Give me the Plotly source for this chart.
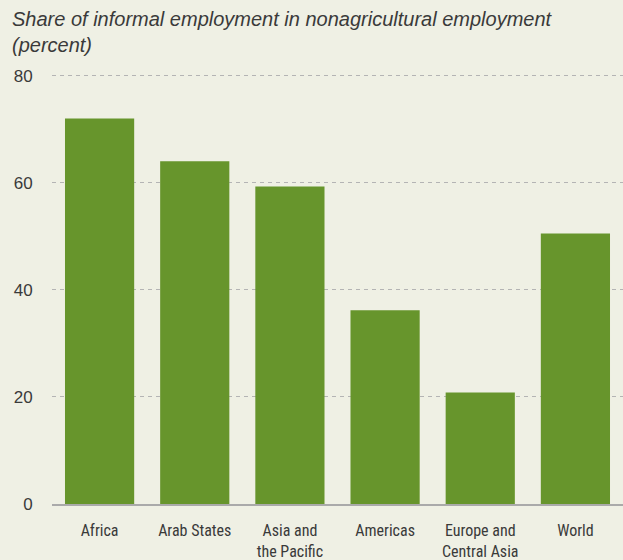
import plotly.graph_objects as go

# ── Data ───────────────────────────────────────────────────────────────────────
regions = [
    "Africa",
    "Arab States",
    "Asia and<br>the Pacific",
    "Americas",
    "Europe and<br>Central Asia",
    "World",
]
informal_share = [72.0, 64.0, 59.3, 36.2, 20.8, 50.5]
y_ticks = [0, 20, 40, 60, 80]

BAR_COLOR = "#67952C"
BG_COLOR = "#EFF0E4"
TEXT_COLOR = "#3a3a3a"

fig = go.Figure(
    go.Bar(
        x=regions,
        y=informal_share,
        marker_color=BAR_COLOR,
        marker_line_width=0,
    )
)

fig.update_layout(
    width=623,
    height=560,
    paper_bgcolor=BG_COLOR,
    plot_bgcolor=BG_COLOR,
    margin=dict(l=52, r=0, t=74, b=56),
    bargap=0.273,
    showlegend=False,
    font=dict(family="Liberation Sans, Arial, sans-serif", color=TEXT_COLOR),
)

# title as a paper annotation so both lines sit where the reference has them
fig.add_annotation(
    text="<i>Share of informal employment in nonagricultural employment<br>(percent)</i>",
    xref="paper",
    yref="paper",
    x=-0.0736,
    y=1.157,
    xanchor="left",
    yanchor="top",
    align="left",
    showarrow=False,
    font=dict(size=20, color=TEXT_COLOR),
)

fig.update_xaxes(
    automargin=False,
    showgrid=False,
    showline=True,
    linecolor="#aaaaaa",
    linewidth=2,
    ticks="outside",
    ticklen=11,
    tickcolor="rgba(0,0,0,0)",
    tickfont=dict(size=16, family="Liberation Sans Narrow, Arial Narrow, Roboto Condensed, sans-serif"),
)

fig.update_yaxes(
    automargin=False,
    range=[0, 80.3],
    tickvals=y_ticks,
    showgrid=True,
    gridcolor="#b4b4b4",
    griddash="4px,4px",
    gridwidth=1,
    zeroline=False,
    showline=False,
    ticks="outside",
    ticklen=15,
    tickcolor="rgba(0,0,0,0)",
    tickfont=dict(size=17),
)

# the page is exactly the figure size, so drop the default body margin
fig.write_html(
    "out.html",
    config={"displayModeBar": False},
    post_script="document.body.style.margin='0';",
)
